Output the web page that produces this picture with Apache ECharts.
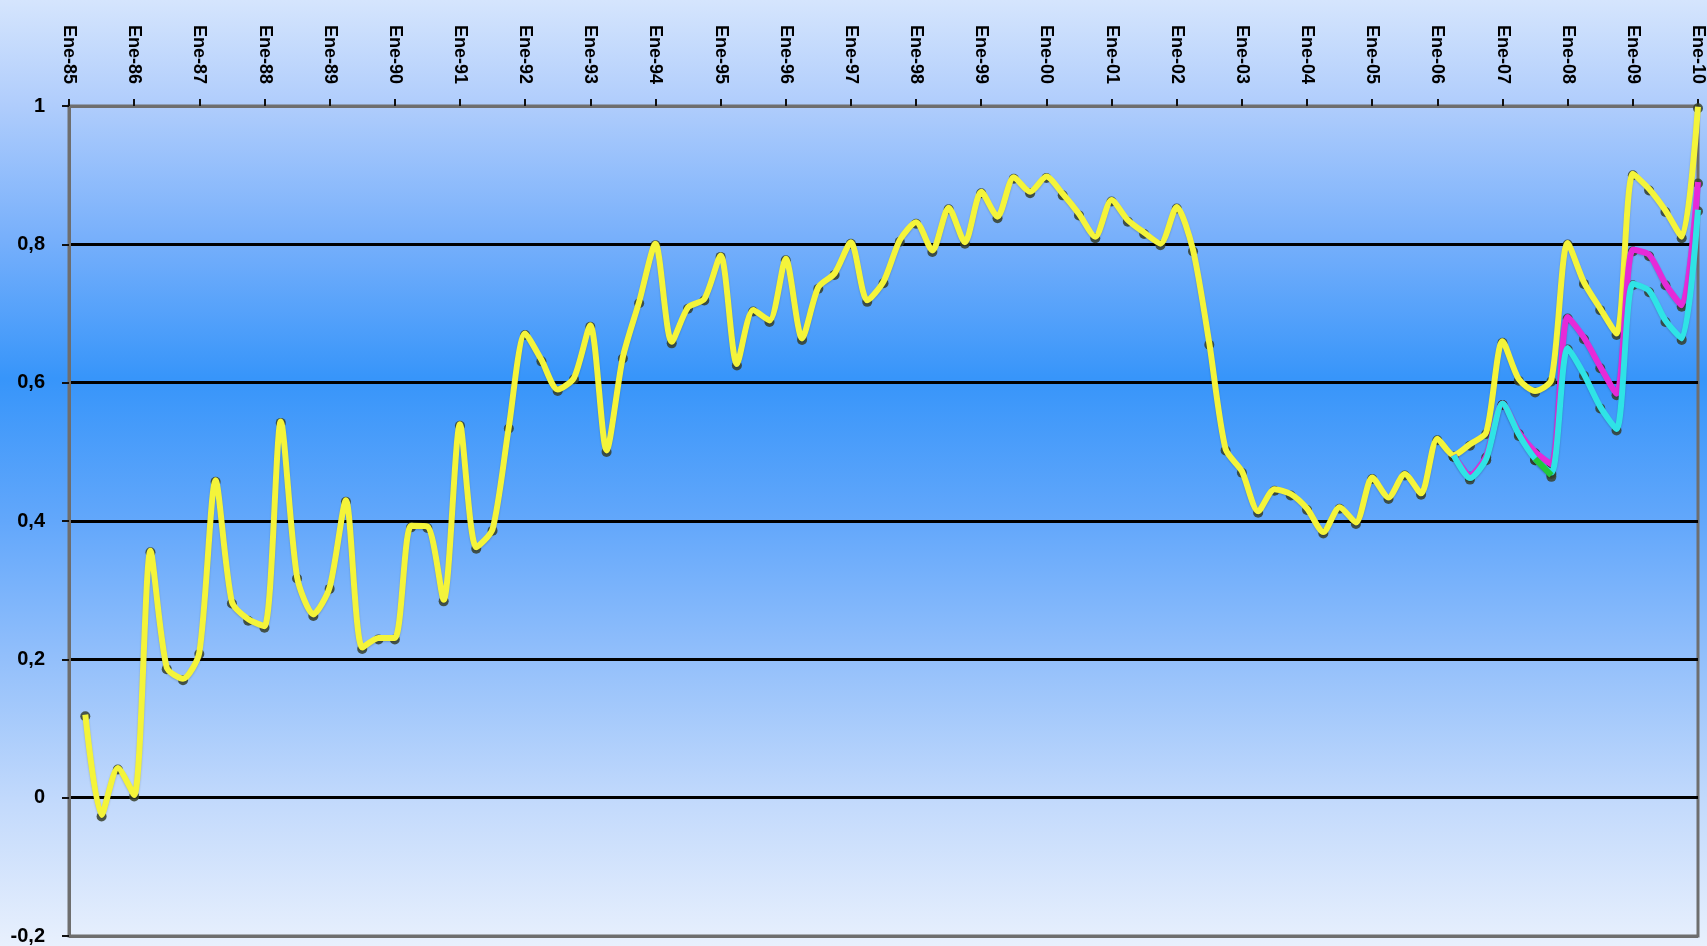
<!DOCTYPE html>
<html>
<head>
<meta charset="utf-8">
<script src="https://cdn.jsdelivr.net/npm/echarts@6/dist/echarts.min.js"></script>
<style>
  html, body { margin: 0; padding: 0; }
  #chart { width: 1707px; height: 946px; }
</style>
</head>
<body>
<div id="chart"></div>
<script>
// etiquetas de años del eje superior (enero de cada año)
const years = ["85", "86", "87", "88", "89", "90", "91", "92", "93", "94", "95", "96", "97",
  "98", "99", "00", "01", "02", "03", "04", "05", "06", "07", "08", "09", "10"];
const months = ["Ene", "Abr", "Jul", "Oct"];
const yTicks = [-0.2, 0, 0.2, 0.4, 0.6, 0.8, 1];

// serie principal (trimestral, desde Ene-85; el primer trimestre no tiene dato)
const serieAmarilla = [
  null, 0.120, -0.025, 0.043,
  0.004, 0.357, 0.188, 0.172,
  0.210, 0.459, 0.283, 0.258,
  0.248, 0.544, 0.319, 0.265,
  0.304, 0.430, 0.217, 0.231,
  0.231, 0.393, 0.392, 0.286,
  0.540, 0.362, 0.388, 0.536,
  0.671, 0.633, 0.590, 0.607,
  0.683, 0.502, 0.637, 0.717,
  0.801, 0.659, 0.709, 0.721,
  0.784, 0.627, 0.705, 0.690,
  0.779, 0.664, 0.738, 0.758,
  0.803, 0.719, 0.746, 0.806,
  0.832, 0.791, 0.853, 0.803,
  0.876, 0.840, 0.897, 0.876,
  0.898, 0.873, 0.844, 0.811,
  0.864, 0.835, 0.817, 0.801,
  0.854, 0.792, 0.657, 0.504,
  0.472, 0.414, 0.446, 0.439,
  0.418, 0.384, 0.420, 0.398,
  0.463, 0.434, 0.468, 0.440,
  0.519, 0.495, 0.511, 0.528,
  0.660, 0.605, 0.588, 0.604,
  0.802, 0.745, 0.707, 0.671,
  0.902, 0.880, 0.849, 0.811,
  0.999,
];

// tramos finales de las otras series (empiezan en el trimestre indicado)
const inicioMagenta = 85;
const serieMagenta = [0.495, 0.466, 0.494, 0.570, 0.528, 0.500, 0.482, 0.695,
  0.665, 0.623, 0.584, 0.792, 0.785, 0.743, 0.712, 0.890];
const inicioCian = 85;
const serieCian = [0.495, 0.462, 0.490, 0.570, 0.525, 0.490, 0.470, 0.650,
  0.612, 0.565, 0.533, 0.743, 0.733, 0.690, 0.664, 0.850];
const inicioVerde = 90;
const serieVerde = [0.490, 0.466];

// categorías trimestrales: Ene-85, Abr-85, ... Ene-10
const categorias = [];
years.forEach((y, i) => {
  months.forEach((m, j) => {
    if (i < years.length - 1 || j === 0) categorias.push(m + "-" + y);
  });
});

function completar(inicio, tramo) {
  const arr = categorias.map(() => null);
  tramo.forEach((v, i) => { arr[inicio + i] = v; });
  return arr;
}

const chart = echarts.init(document.getElementById("chart"));

const fondo = new echarts.graphic.LinearGradient(0, 0, 0, 1, [
  { offset: 0, color: "#d5e5fd" },
  { offset: 0.11, color: "#b0cdfc" },
  { offset: 0.25, color: "#78b0fb" },
  { offset: 0.40, color: "#3795fa" },
  { offset: 0.55, color: "#62a7fb" },
  { offset: 0.70, color: "#94c0fb" },
  { offset: 0.85, color: "#c3dafc" },
  { offset: 1, color: "#e8f0fd" },
]);

function linea(nombre, datos, color, z) {
  return [
    {
      name: nombre + "-puntos",
      type: "line",
      data: datos,
      z: 1,
      symbol: "circle",
      symbolSize: 10,
      symbolOffset: [0, 1.5],
      showAllSymbol: true,
      lineStyle: { opacity: 0 },
      itemStyle: { color: "rgba(55,65,45,0.85)" },
      silent: true,
    },
    {
      name: nombre,
      type: "line",
      data: datos,
      z: z,
      smooth: 0.25,
      showSymbol: false,
      lineStyle: {
        color: color,
        width: 6,
        shadowColor: "rgba(0,0,0,0.2)",
        shadowBlur: 2,
        shadowOffsetY: 1,
      },
    },
  ];
}

const esqEnero = (index) => index % 4 === 0;
const fuente = "Liberation Sans, Arial, sans-serif";

chart.setOption({
  animation: false,
  backgroundColor: fondo,
  grid: {
    left: 69, right: 7, top: 106, bottom: 10,
    show: true,
    borderColor: "#6e6e6e",
    borderWidth: 3,
  },
  xAxis: {
    type: "category",
    position: "top",
    boundaryGap: false,
    data: categorias,
    axisLine: { onZero: false, lineStyle: { color: "#6e6e6e", width: 3 } },
    axisTick: { show: true, interval: esqEnero, length: 7, lineStyle: { color: "#111", width: 2 } },
    axisLabel: {
      interval: esqEnero,
      rotate: 90,
      margin: 22,
      color: "#000",
      fontWeight: "bold",
      fontSize: 18,
      fontFamily: fuente,
    },
    splitLine: { show: false },
  },
  yAxis: {
    type: "value",
    min: yTicks[0],
    max: yTicks[yTicks.length - 1],
    interval: 0.2,
    axisLine: { show: true, lineStyle: { color: "#6e6e6e", width: 3 } },
    axisTick: { show: true, length: 7, lineStyle: { color: "#111", width: 2 } },
    axisLabel: {
      margin: 24,
      color: "#000",
      fontWeight: "bold",
      fontSize: 20,
      fontFamily: fuente,
      formatter: (v) => String(Math.round(v * 10) / 10).replace(".", ","),
    },
    splitLine: {
      show: true,
      lineStyle: {
        color: ["#6e6e6e", "#000", "#000", "#000", "#000", "#000", "#6e6e6e"],
        width: 3,
      },
    },
  },
  series: [
    ...linea("Amarilla", serieAmarilla, "#f4f43a", 2),
    ...linea("Magenta", completar(inicioMagenta, serieMagenta), "#e62ad8", 3),
    ...linea("Cian", completar(inicioCian, serieCian), "#2fe3e6", 4),
    ...linea("Verde", completar(inicioVerde, serieVerde), "#22c83a", 5),
  ],
});
</script>
</body>
</html>
